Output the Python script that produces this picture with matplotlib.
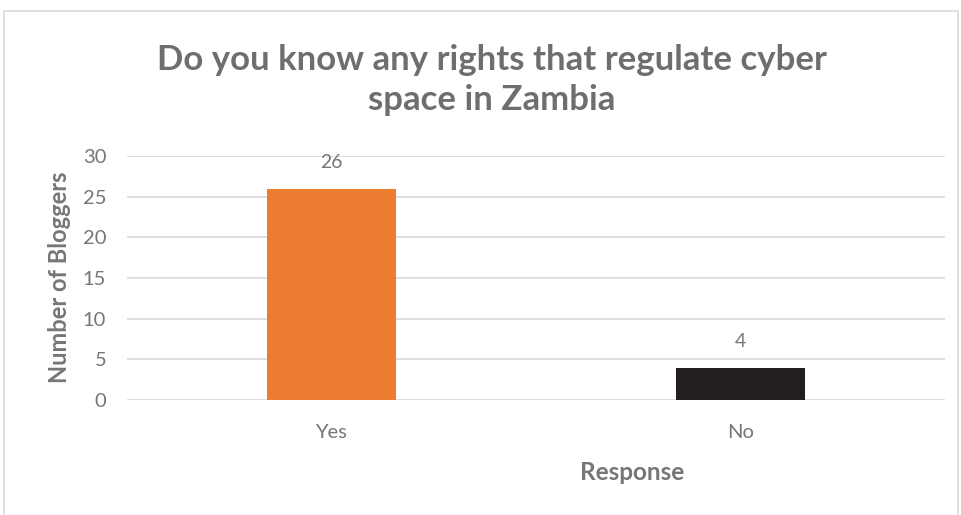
import matplotlib.pyplot as plt

# survey answers
responses = ["Yes", "No"]
bloggers = [26, 4]
bar_colors = ["#ED7D31", "#231F20"]
y_ticks = [0, 5, 10, 15, 20, 25, 30]

plt.rcParams['font.family'] = ['Lato', 'DejaVu Sans']
grey = "#767676"
title_grey = "#6E6E6E"

fig = plt.figure(figsize=(9.62, 5.15), dpi=100)
ax = fig.add_axes([0.132, 0.223, 0.850, 0.474])

x = range(len(responses))
bars = ax.bar(x, bloggers, width=0.315, color=bar_colors, zorder=3)
for b, v in zip(bars, bloggers):
    ax.text(b.get_x() + b.get_width() / 2, v + 3.2, str(v),
            ha='center', va='center', fontsize=14, color=grey)

ax.set_xlim(-0.5, 1.5)
ax.set_ylim(0, 30)
ax.set_yticks(y_ticks)
ax.set_xticks(list(x))
ax.set_xticklabels(responses)
ax.tick_params(axis='both', length=0, labelsize=14.5, labelcolor=grey)
ax.tick_params(axis='x', pad=17)
ax.tick_params(axis='y', pad=15)
ax.grid(axis='y', color='#D9D9D9', linewidth=1.2, zorder=0)
for s in ax.spines.values():
    s.set_visible(False)

fig.text(0.062, 0.462, "Number of Bloggers", rotation=90, ha='center', va='center',
         fontsize=17, fontweight='bold', color=grey)

fig.text(0.511, 0.845, "Do you know any rights that regulate cyber\nspace in Zambia",
         ha='center', va='center', fontsize=25, fontweight='bold', color=title_grey,
         linespacing=1.33)
fig.text(0.657, 0.083, "Response", ha='center', va='center',
         fontsize=17.5, fontweight='bold', color=grey)

# chart frame
frame = plt.Rectangle((0.004, -0.05), 0.992, 1.028, transform=fig.transFigure,
                      fill=False, edgecolor='#D9D9D9', linewidth=1.2)
fig.patches.append(frame)

fig.savefig("out.png", dpi=100)
